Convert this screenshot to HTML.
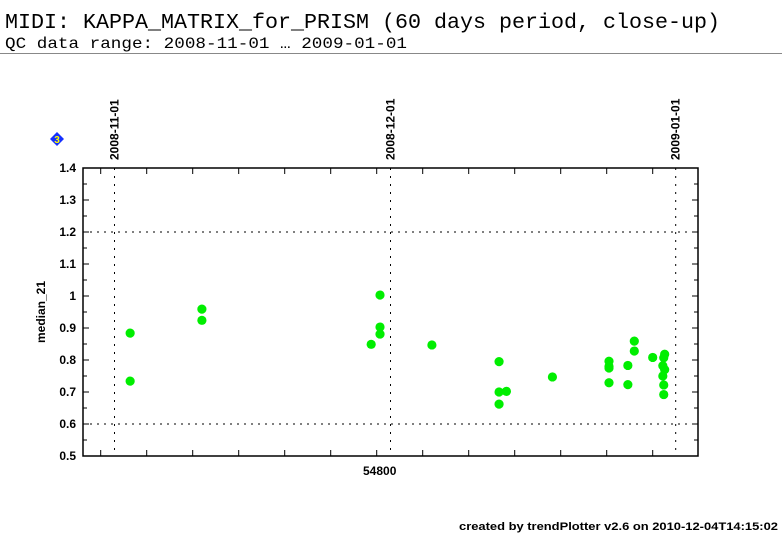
<!DOCTYPE html>
<html><head><meta charset="utf-8"><style>
html,body{margin:0;padding:0;background:#fff;}
svg{display:block;}
</style></head><body>
<svg id="chart" width="782" height="542" viewBox="0 0 782 542" xmlns="http://www.w3.org/2000/svg">
<text x="5" y="28" font-family="Liberation Mono, monospace" font-size="21" textLength="715" lengthAdjust="spacingAndGlyphs" fill="#000">MIDI: KAPPA_MATRIX_for_PRISM (60 days period, close-up)</text>
<text x="5" y="48" font-family="Liberation Mono, monospace" font-size="16" textLength="402" lengthAdjust="spacingAndGlyphs" fill="#000">QC data range: 2008-11-01 … 2009-01-01</text>
<line x1="0" y1="53.5" x2="782" y2="53.5" stroke="#888" stroke-width="1"/>
<g>
<polygon points="57,132 64,139 57,146 50,139" fill="#1530ff"/>
<text x="57" y="143" text-anchor="middle" font-family="Liberation Sans, sans-serif" font-weight="bold" font-size="10" fill="#ffff00">3</text>
</g>
<g id="grid"></g>
<g id="axes"></g>
<g id="points"></g>
<text transform="translate(45,312) rotate(-90)" text-anchor="middle" font-family="Liberation Sans, sans-serif" font-weight="bold" font-size="12">median_21</text>
<text x="459" y="530" font-family="Liberation Sans, sans-serif" font-weight="bold" font-size="11" textLength="319" lengthAdjust="spacingAndGlyphs">created by trendPlotter v2.6 on 2010-12-04T14:15:02</text>
</svg>
<script>
const mjd = [54773.2,54773.2,54781.0,54781.0,54799.4,54800.36,54800.36,54800.36,54806.0,54813.3,54813.3,54814.1,54813.3,54819.1,54825.25,54825.25,54825.25,54825.25,54827.3,54827.3,54828.0,54828.0,54830.0,54831.2,54831.3,54831.1,54831.3,54831.1,54831.2,54831.2];
const values = [0.884,0.734,0.959,0.924,0.849,1.003,0.903,0.881,0.847,0.795,0.700,0.702,0.662,0.747,0.796,0.780,0.775,0.729,0.783,0.723,0.859,0.828,0.808,0.807,0.818,0.782,0.770,0.750,0.722,0.692];
const yTicks = [0.5,0.6,0.7,0.8,0.9,1,1.1,1.2,1.3,1.4];
const yTickLabels = ["0.5","0.6","0.7","0.8","0.9","1","1.1","1.2","1.3","1.4"];
const xTickLabelValues = [54800];
const dateLines = [54771.5,54801.5,54832.5];
const dateLabels = ["2008-11-01","2008-12-01","2009-01-01"];
const hGridValues = [0.6,1.2];

const L=83,R=698,T=168,B=456;
const X0=54800,X0px=376.7,PXD=9.2;
const xs=v=>X0px+(v-X0)*PXD;
const ys=v=>B-(v-0.5)/0.9*(B-T);
const NS="http://www.w3.org/2000/svg";
function mk(tag,attrs,parent){const e=document.createElementNS(NS,tag);for(const k in attrs)e.setAttribute(k,attrs[k]);parent.appendChild(e);return e;}
const grid=document.getElementById('grid'),axes=document.getElementById('axes'),pts=document.getElementById('points'),svg=document.getElementById('chart');

hGridValues.forEach(v=>{
 const l=mk('line',{x1:L,x2:R,y1:ys(v),y2:ys(v),stroke:'#000','stroke-width':1,'stroke-dasharray':'2,5'},grid);
 
 
});
dateLines.forEach((d,i)=>{
 const x=xs(d);
 const l=mk('line',{x1:x,x2:x,y1:T,y2:B,stroke:'#000','stroke-width':1,'stroke-dasharray':'2,6'},grid);
 
 
 const t=mk('text',{transform:`translate(${x+4},${T-8}) rotate(-90)`,'font-family':'Liberation Sans, sans-serif','font-weight':'bold','font-size':'12'},svg);
 t.textContent=dateLabels[i];
 
 
});
const box=mk('rect',{x:L,y:T,width:R-L,height:B-T,fill:'none',stroke:'#000','stroke-width':1.5},axes);


for(let v=0.5;v<=1.4001;v+=0.05){
 const y=ys(v);const major=Math.abs(v*10-Math.round(v*10))<0.01;const len=major?6:4;
 mk('line',{x1:L,x2:L+len,y1:y,y2:y,stroke:'#000','stroke-width':1},axes);
 mk('line',{x1:R,x2:R-len,y1:y,y2:y,stroke:'#000','stroke-width':1},axes);
}
yTicks.forEach((v,i)=>{
 const t=mk('text',{x:76,y:ys(v)+4,'text-anchor':'end','font-family':'Liberation Sans, sans-serif','font-weight':'bold','font-size':'12'},axes);
 t.textContent=yTickLabels[i];
 
 
});
for(let d=54770;d<=54835;d+=5){
 const x=xs(d);if(x<L||x>R)continue;
 mk('line',{x1:x,x2:x,y1:B,y2:B-6,stroke:'#000','stroke-width':1},axes);
 mk('line',{x1:x,x2:x,y1:T,y2:T+6,stroke:'#000','stroke-width':1},axes);
}
xTickLabelValues.forEach(v=>{
 const t=mk('text',{x:xs(v)+3,y:B+19,'text-anchor':'middle','font-family':'Liberation Sans, sans-serif','font-weight':'bold','font-size':'12'},axes);
 t.textContent=String(v);
 
 
});
mjd.forEach((d,i)=>{
 const c=mk('circle',{cx:xs(d),cy:ys(values[i]),r:4.6,fill:'#00ee00'},pts);
 
 
});
</script>
</body></html>
